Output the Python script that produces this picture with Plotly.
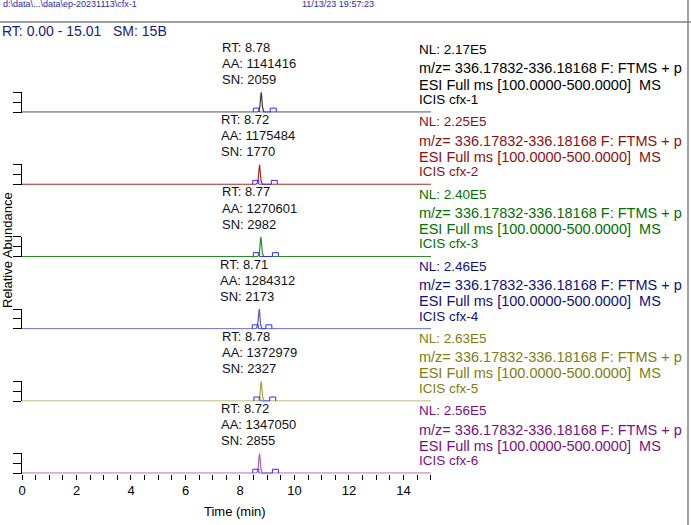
import plotly.graph_objects as go

# ---------------- data ----------------
samples = ["cfx-1", "cfx-2", "cfx-3", "cfx-4", "cfx-5", "cfx-6"]
nl_values = ["2.17E5", "2.25E5", "2.40E5", "2.46E5", "2.63E5", "2.56E5"]
rt_values = [8.78, 8.72, 8.77, 8.71, 8.78, 8.72]
aa_values = [1141416, 1175484, 1270601, 1284312, 1372979, 1347050]
sn_values = [2059, 1770, 2982, 2173, 2327, 2855]
peak_start = [8.60, 8.58, 8.60, 8.56, 8.62, 8.58]
peak_end = [9.22, 9.26, 9.30, 9.06, 9.20, 9.30]

times = [
    [0.00, 8.64, 8.69, 8.73, 8.76, 8.78, 8.80, 8.83, 8.88, 15.01],
    [0.00, 8.58, 8.63, 8.67, 8.70, 8.72, 8.74, 8.77, 8.82, 15.01],
    [0.00, 8.63, 8.68, 8.72, 8.75, 8.77, 8.79, 8.82, 8.87, 15.01],
    [0.00, 8.57, 8.62, 8.66, 8.69, 8.71, 8.73, 8.76, 8.81, 15.01],
    [0.00, 8.64, 8.69, 8.73, 8.76, 8.78, 8.80, 8.83, 8.88, 15.01],
    [0.00, 8.58, 8.63, 8.67, 8.70, 8.72, 8.74, 8.77, 8.82, 15.01],
]
intensity = [
    [0, 0, 6, 30, 78, 100, 72, 22, 0, 0],
    [0, 0, 5, 28, 80, 100, 70, 20, 0, 0],
    [0, 0, 6, 32, 84, 100, 68, 18, 0, 0],
    [0, 0, 7, 34, 81, 100, 66, 19, 0, 0],
    [0, 0, 5, 29, 79, 100, 71, 21, 0, 0],
    [0, 0, 6, 31, 83, 100, 69, 20, 0, 0],
]
x_major_ticks = [0, 2, 4, 6, 8, 10, 12, 14]
x_minor_ticks = [i * 0.5 for i in range(31)]
scan_filter = "m/z= 336.17832-336.18168 F: FTMS + p"
scan_range = "ESI Full ms [100.0000-500.0000]  MS"

# ---------------- style / layout ----------------
W_FIG, H_FIG = 691, 525
L, R = 22, 260
PW = W_FIG - L - R
FONT = "Arial, Liberation Sans, sans-serif"
text_colors = ["#000000", "#8b1010", "#007000", "#10107a", "#7d7d10", "#7a107a"]
trace_colors = ["#3a3a3a", "#a52a2a", "#2a8a2a", "#5a5ab8", "#a5a545", "#b060b0"]
box_color = "#2a2aff"
baselines_px = [112.5, 184.7, 257.0, 329.2, 401.4, 473.6]
AXIS_H = 20.5


def px_x(p):
    return (p - L) / PW


def px_y(p):
    return 1 - p / H_FIG


fig = go.Figure()
annotations = []
layout_axes = {}

for i in range(6):
    yname = "y" if i == 0 else f"y{i+1}"
    ykey = "yaxis" if i == 0 else f"yaxis{i+1}"
    B = baselines_px[i]
    fig.add_trace(go.Scatter(
        x=times[i], y=intensity[i], mode="lines",
        line=dict(color=trace_colors[i], width=1.2),
        xaxis="x", yaxis=yname, hoverinfo="skip"))
    # peak boundary markers and integration baseline
    s, e = peak_start[i], peak_end[i]
    w = 0.11
    fig.add_trace(go.Scatter(
        x=[s + w, e - w], y=[0, 0], mode="lines",
        line=dict(color=box_color, width=1), xaxis="x", yaxis=yname, hoverinfo="skip"))
    for c in (s, e):
        fig.add_trace(go.Scatter(
            x=[c - w, c - w, c + w, c + w], y=[0, 20, 20, 0], mode="lines",
            line=dict(color=box_color, width=1), xaxis="x", yaxis=yname, hoverinfo="skip"))

    layout_axes[ykey] = dict(
        domain=[px_y(B), px_y(B - AXIS_H)], range=[-2, 102], anchor="x",
        showline=True, linecolor="#000000", linewidth=1,
        ticks="outside", ticklen=8, tickcolor="#000000", tickwidth=1,
        tickvals=[0, 50, 100], showticklabels=False,
        showgrid=False, zeroline=False, fixedrange=True)

    # peak labels
    for k, txt in enumerate([f"RT: {rt_values[i]:.2f}", f"AA: {aa_values[i]}", f"SN: {sn_values[i]}"]):
        annotations.append(dict(
            x=rt_values[i], xref="x", xshift=-41, xanchor="left",
            y=px_y(B - 65 + 16 * k), yref="paper", yanchor="middle",
            text=txt, showarrow=False, font=dict(family=FONT, size=13, color="#111111")))
    # right-side info
    info = [f"NL: {nl_values[i]}", scan_filter, scan_range, f"ICIS {samples[i]}"]
    offs = [-63, -44, -28, -13]
    sizes = [13.5, 14.5, 14.5, 13.5]
    for txt, off, sz in zip(info, offs, sizes):
        annotations.append(dict(
            x=px_x(417), xref="paper", xanchor="left",
            y=px_y(B + off), yref="paper", yanchor="middle",
            text=txt, showarrow=False, font=dict(family=FONT, size=sz, color=text_colors[i])))

ticktext = [str(int(v)) if (v in x_major_ticks) else "" for v in x_minor_ticks]

annotations += [
    dict(x=px_x(1), y=px_y(4), xref="paper", yref="paper", xanchor="left", yanchor="middle",
         text="d:\\data\\...\\data\\ep-20231113\\cfx-1", showarrow=False,
         font=dict(family=FONT, size=9, color="#2a2aa8")),
    dict(x=px_x(300), y=px_y(4), xref="paper", yref="paper", xanchor="left", yanchor="middle",
         text="11/13/23 19:57:23", showarrow=False,
         font=dict(family=FONT, size=9, color="#2a2aa8")),
    dict(x=px_x(0), y=px_y(31), xref="paper", yref="paper", xanchor="left", yanchor="middle",
         text="RT: 0.00 - 15.01   SM: 15B", showarrow=False,
         font=dict(family=FONT, size=14, color="#1a1a7a")),
    dict(x=px_x(235), y=px_y(511), xref="paper", yref="paper", xanchor="center", yanchor="middle",
         text="Time (min)", showarrow=False, font=dict(family=FONT, size=13, color="#000000")),
    dict(x=px_x(7), y=px_y(250), xref="paper", yref="paper", xanchor="center", yanchor="middle",
         text="Relative Abundance", textangle=-90, showarrow=False,
         font=dict(family=FONT, size=13, color="#000000")),
]

shapes = [
    dict(type="line", xref="paper", yref="paper", x0=px_x(0), x1=px_x(691),
         y0=px_y(22), y1=px_y(22), line=dict(color="#808080", width=1.5)),
    dict(type="line", xref="paper", yref="paper", x0=px_x(688), x1=px_x(688),
         y0=px_y(0), y1=px_y(525), line=dict(color="#808080", width=1.5)),
]

fig.update_layout(
    width=W_FIG, height=H_FIG,
    margin=dict(l=L, r=R, t=0, b=0, pad=0),
    paper_bgcolor="white", plot_bgcolor="white",
    showlegend=False, hovermode=False,
    xaxis=dict(domain=[0, 1], range=[0, 15.01], anchor="y6",
               tickvals=x_minor_ticks, ticktext=ticktext,
               ticks="outside", ticklen=5, tickcolor="#000000", tickwidth=1,
               showline=False, showgrid=False, zeroline=False,
               tickfont=dict(family=FONT, size=13, color="#000000"), fixedrange=True),
    annotations=annotations, shapes=shapes,
    **layout_axes,
)

fig.write_html("out.html", config={"displayModeBar": False},
               post_script="document.body.style.margin='0px';")
